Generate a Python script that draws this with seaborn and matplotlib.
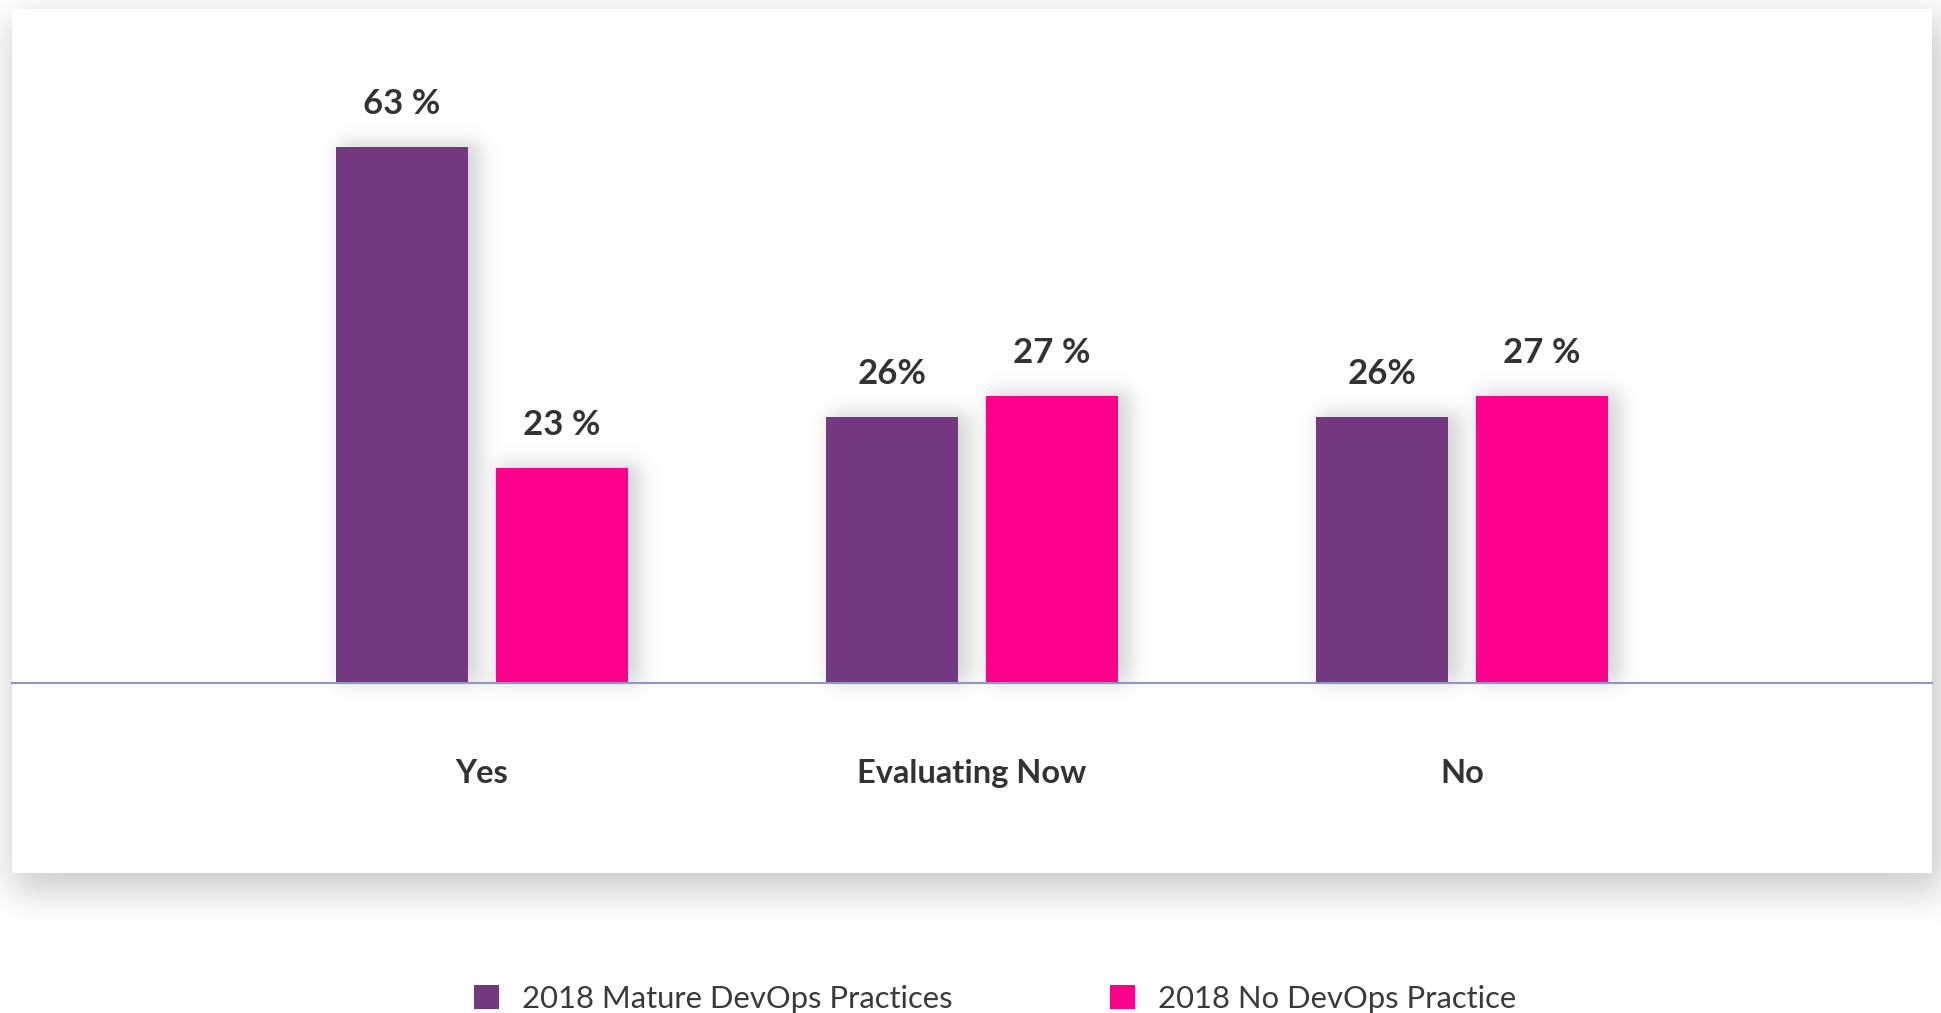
import math
import numpy as np
import pandas as pd
import seaborn as sns
import matplotlib.pyplot as plt

# values
answers = ["Yes", "Evaluating Now", "No"]
series = ["2018 Mature DevOps Practices", "2018 No DevOps Practice"]
mature_height = [63.0, 31.3, 31.3]
none_height = [25.3, 33.75, 33.75]
mature_labels = ["63 %", "26%", "26%"]
none_labels = ["23 %", "27 %", "27 %"]

PURPLE = "#743881"
PINK = "#FF008C"
TEXT = "#333333"

W, H = 1941, 1013


def blur_step(n, lo, hi, sigma):
    # 1-D blurred indicator of [lo, hi]
    idx = np.arange(n) + 0.5
    erf = np.vectorize(math.erf)
    a = erf((idx - lo) / (sigma * math.sqrt(2)))
    b = erf((idx - hi) / (sigma * math.sqrt(2)))
    out = 0.5 * (a - b)
    out[out < 0.01] = 0
    return out


def main():
    df = pd.DataFrame({
        "answer": answers * 2,
        "height": mature_height + none_height,
        "group": [series[0]] * 3 + [series[1]] * 3,
    })

    sns.set_theme(style="white")
    plt.rcParams["font.family"] = ["Lato", "DejaVu Sans"]

    fig = plt.figure(figsize=(W / 100, H / 100), dpi=100)
    fig.patch.set_facecolor("white")
    card_l, card_r, card_t, card_b = 12, 1932, 9, 873
    base_y = 683
    ax = fig.add_axes([card_l / W, 1 - base_y / H,
                       (card_r - card_l) / W, (base_y - card_t) / H])
    ax.patch.set_alpha(0)

    sns.barplot(data=df, x="answer", y="height", hue="group",
                palette=[PURPLE, PINK], width=0.653, gap=0.17,
                saturation=1, linewidth=0, ax=ax)

    ax.set_xlim(-0.959, 2.959)
    ax.set_ylim(0, 79.17)
    ax.set_xlabel("")
    ax.set_ylabel("")
    ax.set_yticks([])
    for s in ["top", "left", "right"]:
        ax.spines[s].set_visible(False)
    ax.spines["bottom"].set_color("#8E96C8")
    ax.spines["bottom"].set_linewidth(1.5)
    ax.tick_params(axis="x", length=0, pad=55, labelsize=23.5, labelcolor=TEXT)
    for t in ax.get_xticklabels():
        t.set_fontweight("bold")

    for cont, lbls in zip(ax.containers, [mature_labels, none_labels]):
        ax.bar_label(cont, labels=lbls, padding=19, fontsize=25,
                     fontweight="bold", color=TEXT)

    sns.move_legend(ax, "center", bbox_to_anchor=(0.5127, 0.014),
                    bbox_transform=fig.transFigure, ncol=2, frameon=False,
                    title=None, fontsize=22.3, handlelength=0.8,
                    handleheight=0.8, handletextpad=0.75, columnspacing=5.1)
    for t in ax.get_legend().get_texts():
        t.set_color("#3a3a3a")

    # soft card shadow + bar shadows as a background image
    fig.canvas.draw()
    renderer = fig.canvas.get_renderer()
    card_sh = 0.2 * np.outer(blur_step(H, card_t + 10, card_b + 18, 18),
                             blur_step(W, card_l, card_r + 12, 18))
    bar_sh = np.zeros((H, W))
    for p in ax.patches:
        bb = p.get_window_extent(renderer)
        bar_sh += 0.16 * np.outer(blur_step(H, H - bb.y1 - 4, H - bb.y0, 9),
                                  blur_step(W, bb.x0 + 4, bb.x1 + 12, 9))
    img = 1 - card_sh
    img[card_t:card_b, card_l:card_r] = 1 - np.clip(
        bar_sh[card_t:card_b, card_l:card_r], 0, 0.2)
    rgb = np.dstack([img] * 3)
    fig.figimage(rgb, 0, 0, origin="upper", zorder=-1)

    fig.savefig("out.png", dpi=100)


if __name__ == "__main__":
    main()
